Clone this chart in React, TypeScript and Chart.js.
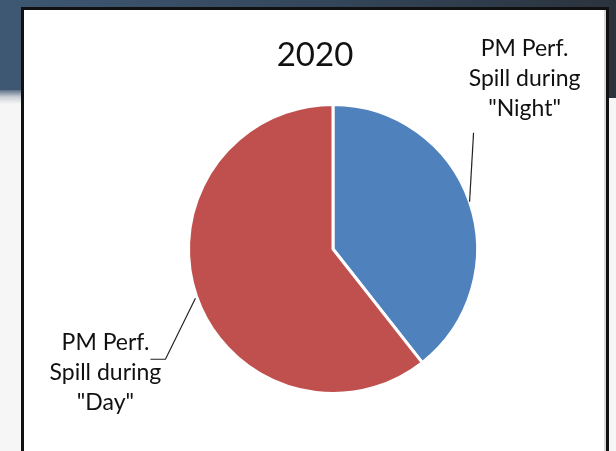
import React, { useEffect, useRef } from "react";
import { Chart, registerables } from "chart.js";

Chart.register(...registerables);

const categories = ['PM Perf. Spill during "Night"', 'PM Perf. Spill during "Day"'];
const labelLines = [
  ["PM Perf.", "Spill during", '"Night"'],
  ["PM Perf.", "Spill during", '"Day"'],
];
const values = [39.4, 60.6];
const colors = ["#4f81bd", "#c0504d"];
const titleText = "2020";

const FONT = "Lato, 'Open Sans', sans-serif";

const labelPlugin = {
  id: "pieLabels",
  afterDraw(chart: any) {
    const ctx = chart.ctx;
    const meta = chart.getDatasetMeta(0);
    const area = chart.chartArea;
    ctx.save();
    // title
    ctx.fillStyle = "#111";
    ctx.font = `33px ${FONT}`;
    ctx.textAlign = "center";
    ctx.textBaseline = "middle";
    ctx.fillText(titleText, (area.left + area.right) / 2 - 18, 45);

    meta.data.forEach((arc: any, i: number) => {
      const p = arc.getProps(["x", "y", "startAngle", "endAngle", "outerRadius"], true);
      const mid = (p.startAngle + p.endAngle) / 2;
      const ax = p.x + Math.cos(mid) * p.outerRadius;
      const ay = p.y + Math.sin(mid) * p.outerRadius;
      ctx.strokeStyle = "#222";
      ctx.lineWidth = 1.2;
      ctx.beginPath();
      let lx: number, ly: number;
      if (i === 0) {
        ctx.moveTo(ax, ay);
        ctx.lineTo(ax + 4, ay - 69);
        lx = ax + 55;
        ly = ay - 123;
      } else {
        ctx.moveTo(ax - 1, ay + 2);
        ctx.lineTo(ax - 31, ay + 63);
        ctx.lineTo(ax - 46, ay + 63);
        lx = ax - 91;
        ly = ay + 76;
      }
      ctx.stroke();
      ctx.fillStyle = "#111";
      ctx.font = `23px ${FONT}`;
      ctx.textAlign = "center";
      ctx.textBaseline = "middle";
      const lines = labelLines[i];
      const lh = 30;
      lines.forEach((t, k) => {
        ctx.fillText(t, lx, ly + (k - 1) * lh);
      });
    });
    ctx.restore();
  },
};

export default function App() {
  const ref = useRef<HTMLCanvasElement>(null);
  useEffect(() => {
    if (!ref.current) return;
    const chart = new Chart(ref.current, {
      type: "pie",
      data: {
        labels: categories,
        datasets: [
          {
            data: values,
            backgroundColor: colors,
            borderColor: "#ffffff",
            borderWidth: 3,
          },
        ],
      },
      options: {
        responsive: false,
        animation: false,
        devicePixelRatio: 1,
        layout: { padding: { left: 163, right: 127, top: 93, bottom: 56 } },
        plugins: {
          legend: { display: false },
          tooltip: { enabled: false },
          title: { display: false },
        },
      },
      plugins: [labelPlugin],
    });
    return () => chart.destroy();
  }, []);

  return (
    <div
      style={{
        position: "fixed",
        left: 0,
        top: 0,
        width: 616,
        height: 451,
        overflow: "hidden",
        background: "#f6f6f6",
      }}
    >
      <div
        style={{
          position: "absolute",
          left: 0,
          top: 0,
          width: 616,
          height: 98,
          background: "linear-gradient(90deg, #3e5873 0%, #34475c 50%, #2b333d 100%)",
        }}
      />
      <div
        style={{
          position: "absolute",
          left: 0,
          top: 90,
          width: 24,
          height: 14,
          background: "linear-gradient(180deg, #5d7088 0%, #c9cfd6 50%, #f6f6f6 100%)",
        }}
      />
      <div
        style={{
          position: "absolute",
          left: 21,
          top: 7,
          width: 588,
          height: 460,
          background: "#ffffff",
          border: "3px solid #111",
          boxSizing: "border-box",
          boxShadow: "inset -2px 0 0 #d8d8d8",
        }}
      >
        <canvas ref={ref} width={582} height={441} style={{ display: "block" }} />
      </div>
    </div>
  );
}
